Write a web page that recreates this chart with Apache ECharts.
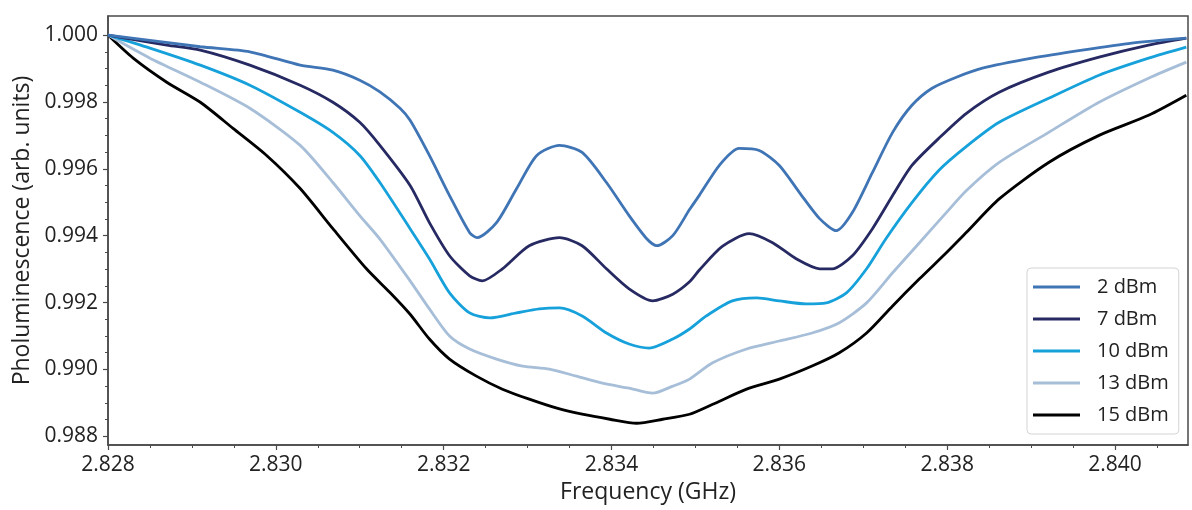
<!DOCTYPE html>
<html>
<head>
<meta charset="utf-8">
<script src="https://cdn.jsdelivr.net/npm/echarts@6/dist/echarts.min.js"></script>
<style>
html,body{margin:0;padding:0;background:#fff;}
#chart{width:1192px;height:510px;}
</style>
</head>
<body>
<div id="chart"></div>
<script>
// ---- data ----
const seriesNames = ['2 dBm', '7 dBm', '10 dBm', '13 dBm', '15 dBm'];

const freq2 = [2.8280,2.82910,2.82969,2.83029,2.83068,2.83100,2.83124,2.83148,2.83160,2.83183,2.83207,2.83231,2.83240,2.83263,2.83287,2.83311,2.83338,2.83365,2.83394,2.83421,2.83442,2.83454,2.83473,2.83493,2.83505,2.83529,2.83552,2.83576,2.83600,2.83624,2.83648,2.83668,2.83687,2.83711,2.83735,2.83758,2.83782,2.83811,2.83842,2.83901,2.83961,2.84020,2.84085];
const val2  = [1.0000,0.99965,0.99950,0.99910,0.99895,0.99865,0.99830,0.99781,0.99745,0.99640,0.99520,0.99409,0.99394,0.99439,0.99541,0.99640,0.99670,0.99649,0.99559,0.99460,0.99391,0.99370,0.99400,0.99478,0.99522,0.99612,0.99661,0.99655,0.99610,0.99529,0.99451,0.99415,0.99469,0.99589,0.99709,0.99790,0.99841,0.99874,0.99901,0.99931,0.99955,0.99976,0.99991];

const freq7 = [2.8280,2.82870,2.82910,2.82969,2.83029,2.83068,2.83100,2.83124,2.83160,2.83183,2.83207,2.83231,2.83246,2.83270,2.83302,2.83338,2.83365,2.83394,2.83421,2.83449,2.83473,2.83493,2.83505,2.83532,2.83564,2.83592,2.83620,2.83648,2.83663,2.83687,2.83711,2.83735,2.83758,2.83790,2.83823,2.83862,2.83921,2.83981,2.84040,2.84085];
const val7  = [1.0000,0.99970,0.99955,0.99910,0.99850,0.99799,0.99739,0.99670,0.99550,0.99439,0.99340,0.99280,0.99265,0.99301,0.99370,0.99394,0.99370,0.99301,0.99241,0.99205,0.99225,0.99262,0.99298,0.99368,0.99406,0.99379,0.99331,0.99301,0.99301,0.99340,0.99421,0.99520,0.99610,0.99691,0.99766,0.99829,0.99889,0.99934,0.99970,0.99991];

const freq10 = [2.8280,2.82850,2.82910,2.82969,2.83029,2.83068,2.83100,2.83124,2.83160,2.83183,2.83207,2.83231,2.83255,2.83287,2.83314,2.83338,2.83365,2.83394,2.83421,2.83445,2.83473,2.83493,2.83513,2.83544,2.83573,2.83600,2.83632,2.83656,2.83680,2.83704,2.83727,2.83758,2.83790,2.83823,2.83862,2.83921,2.83981,2.84040,2.84085];
const val10  = [1.0000,0.99961,0.99910,0.99850,0.99769,0.99709,0.99640,0.99559,0.99421,0.99331,0.99229,0.99169,0.99154,0.99169,0.99181,0.99184,0.99160,0.99109,0.99076,0.99064,0.99091,0.99121,0.99160,0.99205,0.99214,0.99205,0.99196,0.99199,0.99229,0.99301,0.99391,0.99499,0.99595,0.99667,0.99739,0.99811,0.99880,0.99931,0.99964];

const freq13 = [2.8280,2.82850,2.82910,2.82969,2.83029,2.83068,2.83100,2.83124,2.83160,2.83183,2.83207,2.83231,2.83263,2.83294,2.83326,2.83358,2.83389,2.83421,2.83449,2.83473,2.83493,2.83520,2.83561,2.83600,2.83639,2.83671,2.83704,2.83735,2.83767,2.83799,2.83823,2.83862,2.83921,2.83981,2.84040,2.84085];
const val13  = [1.0000,0.99931,0.99859,0.99781,0.99670,0.99559,0.99460,0.99390,0.99265,0.99181,0.99100,0.99061,0.99031,0.99010,0.99001,0.98980,0.98959,0.98944,0.98929,0.98950,0.98971,0.99019,0.99061,0.99085,0.99109,0.99139,0.99199,0.99289,0.99379,0.99469,0.99535,0.99619,0.99709,0.99799,0.99871,0.99919];

const freq15 = [2.8280,2.82830,2.82870,2.82910,2.82949,2.82989,2.83029,2.83068,2.83108,2.83136,2.83160,2.83183,2.83207,2.83239,2.83270,2.83302,2.83335,2.83365,2.83398,2.83430,2.83461,2.83493,2.83520,2.83561,2.83600,2.83639,2.83671,2.83704,2.83735,2.83767,2.83799,2.83823,2.83862,2.83921,2.83981,2.84040,2.84085];
const val15  = [1.0000,0.99931,0.99859,0.99799,0.99721,0.99640,0.99541,0.99421,0.99301,0.99230,0.99165,0.99091,0.99031,0.98980,0.98941,0.98911,0.98884,0.98866,0.98851,0.98839,0.98851,0.98866,0.98895,0.98941,0.98971,0.99010,0.99049,0.99109,0.99190,0.99271,0.99349,0.99410,0.99510,0.99619,0.99700,0.99760,0.99820];

const xMajorTicks = [2.828, 2.830, 2.832, 2.834, 2.836, 2.838, 2.840];
const xMinorTicks = [2.8285,2.829,2.8295,2.8305,2.831,2.8315,2.8325,2.833,2.8335,2.8345,2.835,2.8355,2.8365,2.837,2.8375,2.8385,2.839,2.8395,2.8405];
const yMajorTicks = [0.988, 0.990, 0.992, 0.994, 0.996, 0.998, 1.000];
const yMinorTicks = [0.9885,0.989,0.9895,0.9905,0.991,0.9915,0.9925,0.993,0.9935,0.9945,0.995,0.9955,0.9965,0.997,0.9975,0.9985,0.999,0.9995];

// ---- chart ----
const colors = ['#3f74b5', '#272a62', '#17a1db', '#a7bed8', '#000000'];
const freqs = [freq2, freq7, freq10, freq13, freq15];
const vals = [val2, val7, val10, val13, val15];

const X_MIN = 2.828, X_MAX = 2.84087;
const Y_MIN = 0.98774, Y_MAX = 1.00057;
const axisCol = '#4a4a4a';
const FONT = '"Open Sans", "Noto Sans", sans-serif';

const chart = echarts.init(document.getElementById('chart'), null, {renderer: 'canvas'});

const series = seriesNames.map((name, k) => ({
  name: name,
  type: 'line',
  xAxisIndex: 0,
  yAxisIndex: 0,
  data: freqs[k].map((f, i) => [f, vals[k][i]]),
  showSymbol: false,
  symbol: 'none',
  smooth: 0.25,
  lineStyle: {color: colors[k], width: 2.8},
  itemStyle: {color: colors[k]},
  emphasis: {disabled: true},
  animation: false,
  z: 10 - k
}));

chart.setOption({
  animation: false,
  textStyle: {fontFamily: FONT},
  grid: {
    left: 108, right: 4, top: 16, bottom: 65,
    show: true, borderColor: axisCol, borderWidth: 1.5,
    backgroundColor: 'transparent',
    outerBoundsMode: 'none'
  },
  legend: {
    orient: 'vertical',
    left: 1027, top: 268,
    data: seriesNames.map(n => ({name: n, icon: 'rect'})),
    itemWidth: 47, itemHeight: 3, itemGap: 10,
    padding: [8, 10, 8, 6],
    backgroundColor: 'rgba(255,255,255,0.85)',
    borderColor: '#d4d4d4', borderWidth: 1, borderRadius: 4,
    textStyle: {fontFamily: FONT, fontSize: 20, color: '#222', lineHeight: 22, padding: [0, 0, 0, 12]},
    selectedMode: false
  },
  xAxis: [{
    type: 'value', min: X_MIN, max: X_MAX,
    name: 'Frequency (GHz)', nameLocation: 'middle', nameGap: 36,
    nameTextStyle: {fontFamily: FONT, fontSize: 23, color: '#222'},
    axisLine: {show: true, onZero: false, lineStyle: {color: axisCol, width: 1.5}},
    axisTick: {show: true, inside: false, length: 5, customValues: xMajorTicks, lineStyle: {color: axisCol, width: 1.2}},
    axisLabel: {show: true, margin: 10, customValues: xMajorTicks, fontFamily: FONT, fontSize: 21, color: '#222',
      formatter: v => v.toFixed(3)},
    splitLine: {show: false}
  }, {
    type: 'value', min: X_MIN, max: X_MAX, position: 'bottom',
    axisLine: {show: false},
    axisTick: {show: true, inside: false, length: 3, customValues: xMinorTicks, lineStyle: {color: axisCol, width: 1}},
    axisLabel: {show: false},
    splitLine: {show: false}
  }],
  yAxis: [{
    type: 'value', min: Y_MIN, max: Y_MAX,
    name: 'Pholuminescence (arb. units)', nameLocation: 'middle', nameGap: 66, nameRotate: 90,
    nameTextStyle: {fontFamily: FONT, fontSize: 23, color: '#222'},
    axisLine: {show: true, onZero: false, lineStyle: {color: axisCol, width: 1.5}},
    axisTick: {show: true, inside: false, length: 5, customValues: yMajorTicks, lineStyle: {color: axisCol, width: 1.2}},
    axisLabel: {show: true, margin: 10, customValues: yMajorTicks, fontFamily: FONT, fontSize: 21, color: '#222',
      formatter: v => v.toFixed(3)},
    splitLine: {show: false}
  }, {
    type: 'value', min: Y_MIN, max: Y_MAX, position: 'left',
    axisLine: {show: false},
    axisTick: {show: true, inside: false, length: 3, customValues: yMinorTicks, lineStyle: {color: axisCol, width: 1}},
    axisLabel: {show: false},
    splitLine: {show: false}
  }],
  series: series
});
</script>
</body>
</html>
